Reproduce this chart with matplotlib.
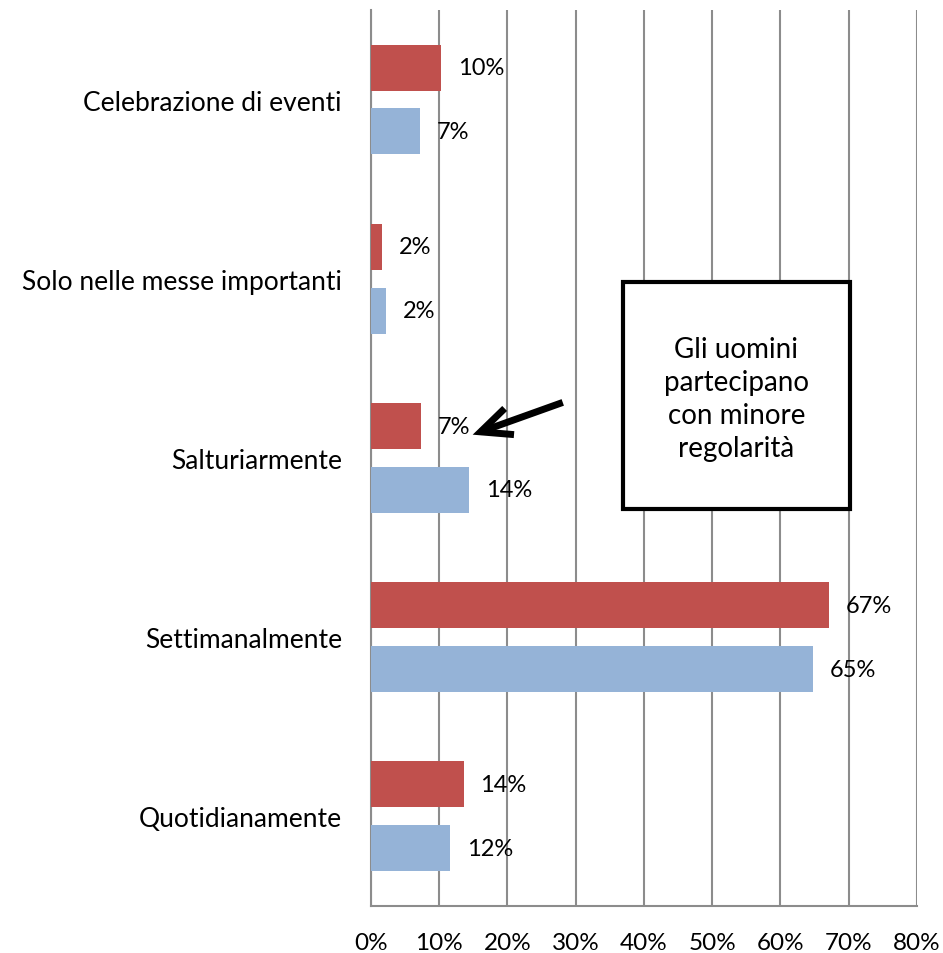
import matplotlib
matplotlib.use("Agg")
import matplotlib.pyplot as plt
import numpy as np
from matplotlib.ticker import FuncFormatter
from matplotlib.patches import Rectangle

plt.rcParams['font.family'] = ['Lato', 'DejaVu Sans']

categories = ["Quotidianamente", "Settimanalmente", "Salturiarmente",
              "Solo nelle messe importanti", "Celebrazione di eventi"]
red_values = [13.6, 67.1, 7.3, 1.6, 10.3]
blue_values = [11.6, 64.8, 14.4, 2.2, 7.2]
xticks = [0, 10, 20, 30, 40, 50, 60, 70, 80]
annotation_text = "Gli uomini\npartecipano\ncon minore\nregolarità"

RED = "#C0504D"
BLUE = "#95B3D7"
GRID = "#8C8C8C"

fig = plt.figure(figsize=(9.43, 9.54), dpi=100)
ax = fig.add_axes([0.3934, 0.0493, 0.9724 - 0.3934, 0.9885 - 0.0493])

y = np.arange(len(categories))
off = 0.178
h = 0.257
ax.barh(y + off, red_values, height=h, color=RED, zorder=3)
ax.barh(y - off, blue_values, height=h, color=BLUE, zorder=3)

for yi, v in zip(y + off, red_values):
    ax.annotate(f"{v:.0f}%", (v, yi), xytext=(12, 0), textcoords="offset points",
                va="center", ha="left", fontsize=17, zorder=4)
for yi, v in zip(y - off, blue_values):
    ax.annotate(f"{v:.0f}%", (v, yi), xytext=(12, 0), textcoords="offset points",
                va="center", ha="left", fontsize=17, zorder=4)

ax.set_xlim(0, 80)
ax.set_ylim(-0.5, len(categories) - 0.5)
ax.set_xticks(xticks)
ax.xaxis.set_major_formatter(FuncFormatter(lambda v, p: f"{v:.0f}%"))
ax.set_yticks(y)
ax.set_yticklabels(categories, fontsize=19)
ax.tick_params(axis='both', length=0)
ax.tick_params(axis='x', labelsize=17.5, pad=19)
ax.tick_params(axis='y', pad=21)

ax.grid(axis='x', color=GRID, linewidth=1.5, zorder=0)
for s in ["top", "right"]:
    ax.spines[s].set_visible(False)
ax.spines["left"].set_color(GRID)
ax.spines["left"].set_linewidth(1.5)
ax.spines["bottom"].set_color(GRID)
ax.spines["bottom"].set_linewidth(1.5)

# annotation box
ax.add_patch(Rectangle((36.9, 1.715), 70.2 - 36.9, 2.98 - 1.715, facecolor="white",
                       edgecolor="black", linewidth=3, zorder=5))
ax.text(53.55, 2.33, annotation_text, ha="center", va="center", fontsize=20,
        linespacing=1.33, zorder=6)

# arrow
ax.annotate("", xy=(14.9, 2.13), xytext=(28.1, 2.31),
            arrowprops=dict(arrowstyle="->,head_length=1.1,head_width=0.5",
                            mutation_scale=20,
                            color="black", linewidth=5, shrinkA=0, shrinkB=0,
                            joinstyle="miter", capstyle="butt"),
            zorder=7)

fig.savefig("out.png", dpi=100)
